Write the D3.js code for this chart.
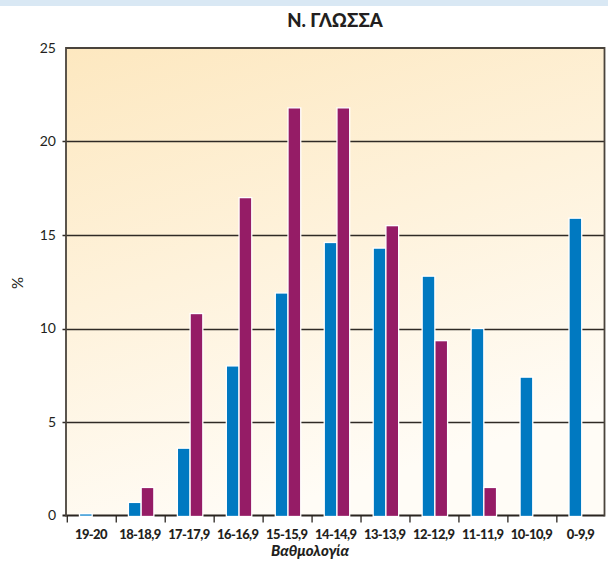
<!DOCTYPE html>
<html>
<head>
<meta charset="utf-8">
<script src="https://cdn.jsdelivr.net/npm/d3@7"></script>
<style>
  html, body { margin: 0; padding: 0; background: #fff; }
  svg { display: block; }
</style>
</head>
<body>
<svg id="chart" width="608" height="563"></svg>
<script>
const title = "Ν. ΓΛΩΣΣΑ";
const xTitle = "Βαθμολογία";
const yTitle = "%";
const categories = ["19-20", "18-18,9", "17-17,9", "16-16,9", "15-15,9", "14-14,9", "13-13,9", "12-12,9", "11-11,9", "10-10,9", "0-9,9"];
const seriesBlue = [0.1, 0.7, 3.6, 8.0, 11.9, 14.6, 14.3, 12.8, 10.0, 7.4, 15.9];
const seriesPurple = [0, 1.5, 10.8, 17.0, 21.8, 21.8, 15.5, 9.35, 1.5, 0, 0];
const yTicks = [0, 5, 10, 15, 20, 25];
const seriesNames = ["blue", "purple"];
const colors = ["#0079c1", "#951c66"];

const svg = d3.select("#chart");
const W = 608, H = 563;
const m = { left: 66, right: 3.5, top: 48, bottom: 47.5 };
const iw = W - m.left - m.right, ih = H - m.top - m.bottom;

// top blue band
svg.append("rect").attr("x", 0).attr("y", 0).attr("width", W).attr("height", 6).attr("fill", "#d9e8f4");

const defs = svg.append("defs");
const grad = defs.append("linearGradient").attr("id", "bg")
  .attr("x1", "0%").attr("y1", "0%").attr("x2", "35%").attr("y2", "100%");
grad.append("stop").attr("offset", "0%").attr("stop-color", "#fde8c0");
grad.append("stop").attr("offset", "100%").attr("stop-color", "#fffcf6");

const g = svg.append("g").attr("transform", `translate(${m.left},${m.top})`);

const x0 = d3.scaleBand().domain(categories).range([0, iw]).paddingInner(0).paddingOuter(0);
const x1 = d3.scaleBand().domain(seriesNames)
  .range([x0.bandwidth() * 0.275, x0.bandwidth() * 0.795]).paddingInner(0);
const y = d3.scaleLinear().domain([0, 25]).range([ih, 0]);

g.append("rect").attr("x", 0).attr("y", 0).attr("width", iw).attr("height", ih).attr("fill", "url(#bg)");

// gridlines
g.append("g").selectAll("line").data(yTicks.filter(t => t > 0 && t < 25)).join("line")
  .attr("x1", -3.5).attr("x2", iw)
  .attr("y1", d => Math.round(y(d)) + 0.5).attr("y2", d => Math.round(y(d)) + 0.5)
  .attr("stroke", "#2f2a25").attr("stroke-width", 1.5);

// baseline
g.append("line").attr("x1", -3.5).attr("x2", iw).attr("y1", y(0)).attr("y2", y(0))
  .attr("stroke", "#2a2520").attr("stroke-width", 2);

// x ticks at band boundaries
const bounds = categories.map(c => x0(c));
g.append("g").selectAll("line").data(bounds).join("line")
  .attr("x1", d => d + 1.3).attr("x2", d => d + 1.3)
  .attr("y1", y(0)).attr("y2", y(0) + 7)
  .attr("stroke", "#2a2520").attr("stroke-width", 1.3);

// bars
const data = categories.map((c, i) => ({ c, vals: [seriesBlue[i], seriesPurple[i]] }));
const groups = g.append("g").selectAll("g").data(data).join("g")
  .attr("transform", d => `translate(${x0(d.c)},0)`);
groups.selectAll("rect").data(d => d.vals.map((v, j) => ({ v, j })).filter(e => e.v > 0)).join("rect")
  .attr("x", e => x1(seriesNames[e.j]))
  .attr("width", x1.bandwidth())
  .attr("y", e => y(e.v))
  .attr("height", e => y(0) - y(e.v) + 1)
  .attr("fill", e => e.v < 0.3 ? "#3a9ad6" : colors[e.j])
  .attr("stroke", "#ffffff").attr("stroke-width", 1.3);

// frame
g.append("path")
  .attr("d", `M0,${ih + 1}V0H${iw}V${ih + 1}`)
  .attr("fill", "none").attr("stroke", "#4a443c").attr("stroke-width", 1.8);

// y tick labels
g.append("g").selectAll("text").data(yTicks).join("text")
  .attr("x", -10).attr("y", d => y(d)).attr("dy", "0.35em")
  .attr("text-anchor", "end")
  .attr("font-family", "Lato, 'Open Sans', sans-serif").attr("font-size", 14)
  .attr("fill", "#231f20").text(d => d);

// x tick labels
g.append("g").selectAll("text").data(categories).join("text")
  .attr("x", d => x0(d) + x0.bandwidth() / 2 + 0.5).attr("y", ih + 23)
  .attr("text-anchor", "middle")
  .attr("font-family", "Lato, 'Open Sans', sans-serif").attr("font-weight", 900).attr("font-size", 13)
  .attr("letter-spacing", "-0.6")
  .attr("fill", "#231f20").text(d => d);

// titles
svg.append("text").attr("x", 335).attr("y", 27).attr("text-anchor", "middle")
  .attr("font-family", "Lato, 'Open Sans', sans-serif").attr("font-weight", 900).attr("font-size", 18.5)
  .attr("fill", "#231f20").text(title);

svg.append("text").attr("x", 310).attr("y", 556).attr("text-anchor", "middle")
  .attr("font-family", "Lato, 'Open Sans', sans-serif").attr("font-weight", 900).attr("font-style", "italic").attr("font-size", 15)
  .attr("fill", "#231f20").text(xTitle);

svg.append("text").attr("transform", "translate(23,283) rotate(-90)").attr("text-anchor", "middle")
  .attr("font-family", "Lato, 'Open Sans', sans-serif").attr("font-size", 15)
  .attr("fill", "#231f20").text(yTitle);
</script>
</body>
</html>
